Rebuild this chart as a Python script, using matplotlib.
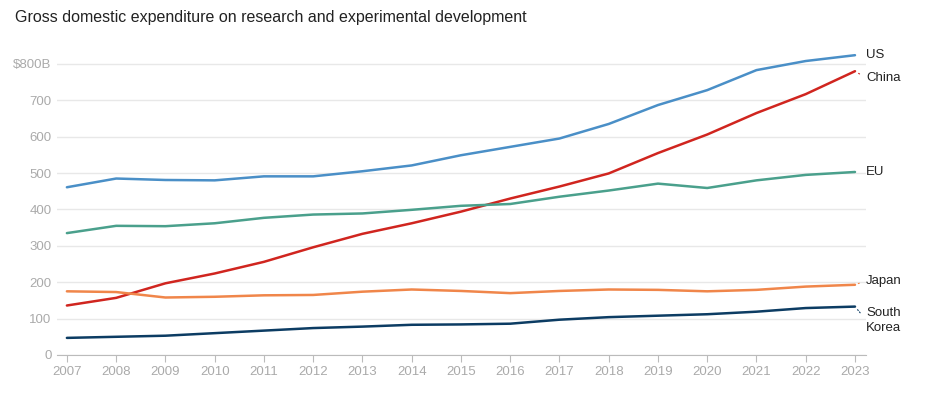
import matplotlib
matplotlib.use('Agg')
import matplotlib.pyplot as plt

plt.rcParams['font.family'] = ['Liberation Sans', 'DejaVu Sans']

years = list(range(2007, 2024))
us = [461, 485, 481, 480, 491, 491, 505, 521, 549, 572, 595, 635, 687, 728, 783, 808, 824]
china = [136, 157, 197, 224, 256, 296, 333, 362, 394, 430, 463, 499, 555, 606, 665, 717, 780]
eu = [335, 355, 354, 362, 377, 386, 389, 399, 410, 415, 435, 452, 471, 459, 480, 495, 503]
japan = [175, 173, 158, 160, 164, 165, 174, 180, 176, 170, 176, 180, 179, 175, 179, 188, 193]
korea = [47, 50, 53, 60, 67, 74, 78, 83, 84, 86, 97, 104, 108, 112, 119, 129, 133]

series = [
    ('US', us, '#4a8fc7', 0),
    ('China', china, '#d0251f', -5),
    ('EU', eu, '#4aa08c', 0),
    ('Japan', japan, '#f0864a', 3),
    ('South\nKorea', korea, '#0c3c63', -10),
]

fig = plt.figure(figsize=(9.29, 3.95), dpi=100)
ax = fig.add_axes([0.0614, 0.1013, 0.8706, 0.7737])

for name, vals, col, dy in series:
    ax.plot(years, vals, color=col, lw=1.8, solid_capstyle='round', zorder=3)
    ax.annotate(name, xy=(years[-1], vals[-1]), xytext=(8, dy), textcoords='offset points',
                fontsize=9.5, color='#222222', va='center', ha='left', linespacing=1.3,
                annotation_clip=False)
    if dy != 0:
        ax.annotate('', xy=(years[-1], vals[-1]), xytext=(5, dy * 0.6), textcoords='offset points',
                    arrowprops=dict(arrowstyle='-', color=col, lw=0.8, ls=':'), annotation_clip=False)

ax.set_xlim(2006.8, 2023.22)
ax.set_ylim(0, 840)
ax.set_yticks(range(0, 900, 100))
ax.set_yticklabels(['0', '100', '200', '300', '400', '500', '600', '700', '$800B'])
ax.set_xticks(years)
ax.set_xticklabels([str(y) for y in years])

ax.grid(axis='y', color='#e8e8e8', lw=1, zorder=0)
for s in ['top', 'right', 'left']:
    ax.spines[s].set_visible(False)
ax.spines['bottom'].set_color('#bbbbbb')
ax.tick_params(axis='y', length=0, labelsize=9.5, labelcolor='#aaaaaa', pad=4)
ax.tick_params(axis='x', length=5, color='#bbbbbb', labelsize=9.5, labelcolor='#aaaaaa', pad=3)

fig.text(0.016, 0.955, 'Gross domestic expenditure on research and experimental development',
         fontsize=11.5, color='#222222', va='center', ha='left')

fig.savefig('out.png', dpi=100)
